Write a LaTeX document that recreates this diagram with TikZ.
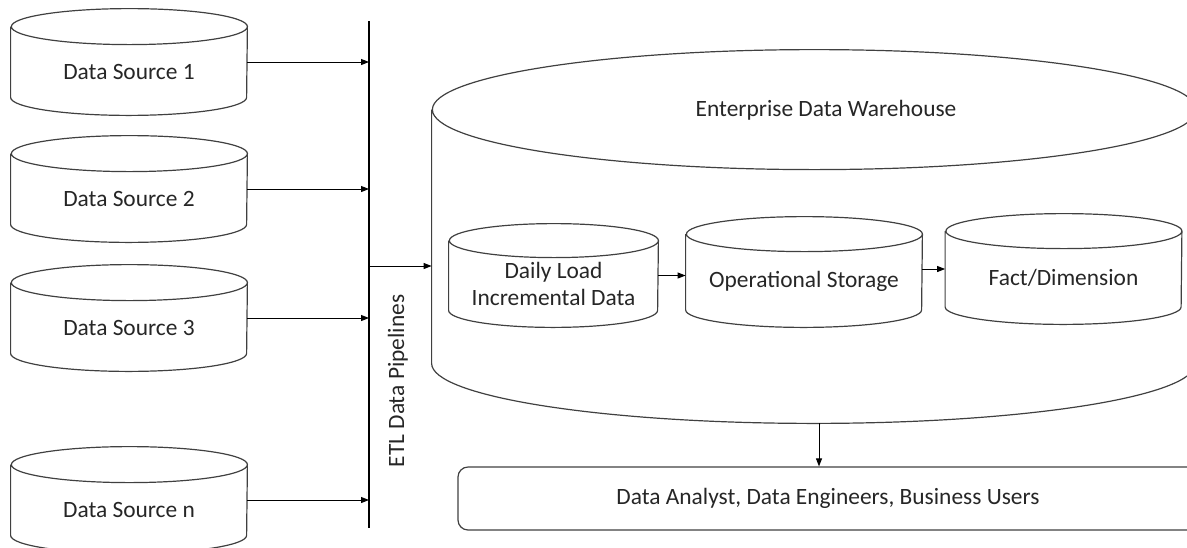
\documentclass[tikz,border=0pt]{standalone}
\usepackage{fontspec}
\setmainfont{Carlito}
\usetikzlibrary{arrows.meta, positioning}

% cylinder outline round a node: name, x radius, y radius
\newcommand{\dbshape}[3]{%
  \draw[dbline] ([yshift=-#3]#1.north west) -- ([yshift=#3]#1.south west)
    arc[start angle=180, end angle=360, x radius=#2, y radius=#3]
    -- ([yshift=-#3]#1.north east)
    arc[start angle=0, end angle=360, x radius=#2, y radius=#3];}

\begin{document}
\begin{tikzpicture}[x=0.5pt, y=-0.5pt, >={Triangle[length=4pt, width=3pt]},
  db/.style={inner sep=0pt},
  dbline/.style={draw=black!75, line width=0.6pt},
  txt/.style={font=\fontsize{11.7}{13.5}\selectfont, text=black!85},
  every label/.append style={txt, align=center},
  flow/.style={->, line width=0.5pt}]
  \clip (0,0) rectangle (1187,547);

  % sources
  \node[db, minimum width=118pt, minimum height=53pt, label={[yshift=-5pt]center:Data Source 1}] (src1) at (129,62) {};
  \node[db, minimum width=118pt, minimum height=53pt, label={[yshift=-5pt]center:Data Source 2}] (src2) at (129,189) {};
  \node[db, minimum width=118pt, minimum height=53pt, label={[yshift=-5pt]center:Data Source 3}] (src3) at (129,318) {};
  \node[db, minimum width=118pt, minimum height=53pt, label={[yshift=-5pt]center:Data Source n}] (srcn) at (129,500) {};
  \foreach \s in {src1,src2,src3,srcn}
    {\dbshape{\s}{59pt}{9pt}}

  % ETL bar
  \coordinate (etltop) at (369,21);
  \coordinate (etlbot) at (369,528);
  \draw[line width=1.25pt] (etltop) -- (etlbot);
  \node[txt, rotate=90] (etl) at (398,381) {ETL Data Pipelines};
  \foreach \s in {src1,src2,src3,srcn}
    \draw[flow] (\s.east) -- (\s.east -| etltop);

  % warehouse
  \node[db, minimum width=382pt, minimum height=186.5pt, label={[yshift=63pt, xshift=6pt]center:Enterprise Data Warehouse}] (edw) at (814,236.5) {};
  \dbshape{edw}{191pt}{30pt}
  \coordinate (etlout) at (369,266);
  \draw[flow] (etlout) -- (etlout -| edw.west);

  \node[db, minimum width=104.5pt, minimum height=51.5pt, label={[yshift=-4pt]center:Daily Load\\Incremental Data}] (daily) at (553.5,275.5) {};
  \node[db, minimum width=118pt, minimum height=55pt, label={[yshift=-4.5pt]center:Operational Storage}] (ods) at (804,272) {};
  \node[db, minimum width=118pt, minimum height=55pt, label={[yshift=-4.5pt]center:Fact/Dimension}] (fact) at (1063.5,269) {};
  \dbshape{daily}{52.25pt}{8.5pt}
  \dbshape{ods}{59pt}{8.75pt}
  \dbshape{fact}{59pt}{8.75pt}
  \draw[flow] (daily.east) -- (daily.east -| ods.west);
  \draw[flow] (fact.west -| ods.east) -- (fact.west);

  % users
  \node[draw=black!75, line width=0.6pt, rounded corners=5pt, minimum width=370pt, minimum height=31.5pt, txt] (users) at (828,498.5) {Data Analyst, Data Engineers, Business Users};
  \draw[flow] ([xshift=2.5pt]edw.south) -- ([xshift=2.5pt]edw.south |- users.north);
\end{tikzpicture}
\end{document}
